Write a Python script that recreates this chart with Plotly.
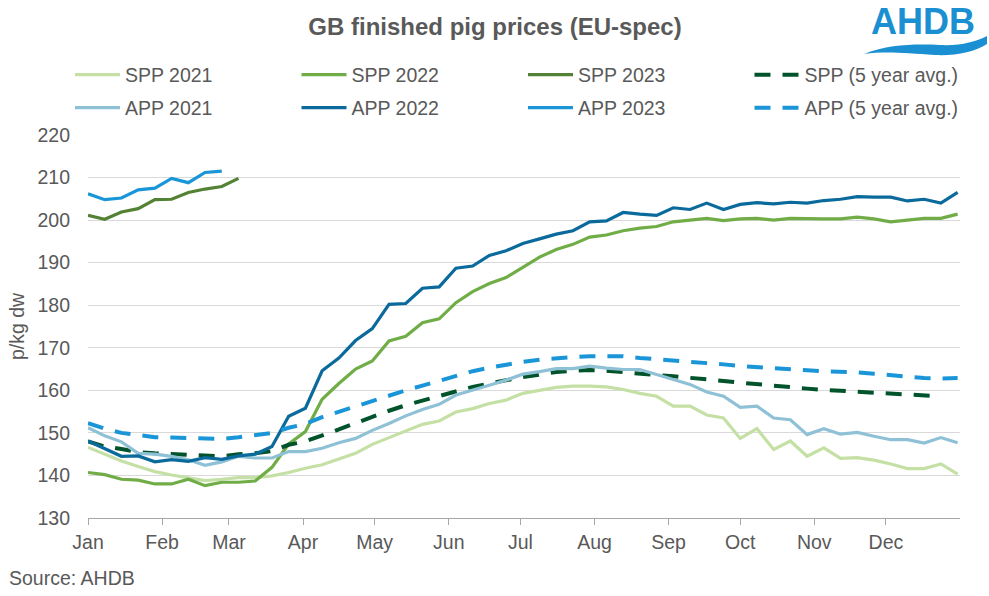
import plotly.graph_objects as go

# ---------------- data ----------------
week_index = list(range(53))
days_per_week = 7
month_labels = ["Jan", "Feb", "Mar", "Apr", "May", "Jun", "Jul", "Aug", "Sep", "Oct", "Nov", "Dec"]
month_start_day = [0, 31, 59, 90, 120, 151, 181, 212, 243, 273, 304, 334]
y_ticks = [130, 140, 150, 160, 170, 180, 190, 200, 210, 220]

spp_2021 = [146.6, 145.0, 143.4, 142.1, 140.9, 140.1, 139.5, 138.8, 139.1, 139.5, 139.5, 139.9,
            140.7, 141.7, 142.5, 143.8, 145.2, 147.3, 148.9, 150.6, 152.0, 152.8, 154.9, 155.7,
            156.9, 157.7, 159.3, 160.0, 160.7, 161.0, 161.0, 160.8, 160.2, 159.3, 158.6, 156.3,
            156.3, 154.2, 153.5, 148.7, 151.0, 146.1, 148.1, 144.5, 146.5, 144.0, 144.2, 143.6,
            142.7, 141.6, 141.6, 142.7, 140.3]
spp_2022 = [140.7, 140.2, 139.1, 138.9, 138.0, 138.0, 139.1, 137.6, 138.4, 138.4, 138.7, 141.9,
            147.4, 150.3, 157.9, 161.6, 165.0, 166.9, 171.6, 172.7, 175.9, 176.8, 180.6, 183.2,
            185.1, 186.5, 188.9, 191.3, 193.1, 194.3, 196.0, 196.5, 197.5, 198.1, 198.5, 199.6,
            200.0, 200.4, 199.9, 200.3, 200.4, 200.0, 200.4, 200.3, 200.3, 200.3, 200.7, 200.3,
            199.6, 200.0, 200.4, 200.4, 201.4]
spp_2023 = [201.1, 200.2, 201.9, 202.7, 204.8, 204.9, 206.5, 207.3, 207.9, 209.8]
spp_5yr = [148.0, 146.8, 146.2, 145.5, 145.2, 145.0, 144.7, 144.5, 144.5, 145.0, 145.2, 145.7,
           147.2, 148.0, 149.3, 150.8, 152.3, 153.8, 155.2, 156.5, 157.6, 158.6, 159.8, 160.8,
           161.6, 162.4, 163.1, 163.7, 164.3, 164.6, 164.8, 164.6, 164.2, 164.0, 163.6, 163.3,
           163.0, 162.6, 162.2, 161.8, 161.4, 161.0, 160.7, 160.4, 160.1, 159.9, 159.7, 159.5,
           159.2, 159.0, 158.8, 158.6]

app_2021 = [151.2, 149.3, 147.9, 145.2, 145.0, 144.5, 143.7, 142.4, 143.2, 144.5, 144.1, 144.1,
            145.6, 145.6, 146.4, 147.7, 148.7, 150.6, 152.2, 154.0, 155.5, 156.7, 158.9, 160.0,
            161.2, 162.4, 163.8, 164.4, 165.1, 165.1, 165.7, 165.2, 164.9, 164.9, 163.7, 162.5,
            161.4, 159.6, 158.6, 156.0, 156.3, 153.5, 153.1, 149.6, 151.0, 149.7, 150.1, 149.2,
            148.4, 148.4, 147.6, 148.9, 147.7]
app_2022 = [148.1, 146.2, 144.5, 144.6, 143.2, 143.7, 143.3, 144.2, 143.8, 144.6, 145.0, 146.8,
            153.9, 155.8, 164.6, 167.6, 171.7, 174.5, 180.2, 180.4, 184.0, 184.3, 188.7, 189.2,
            191.7, 192.8, 194.5, 195.6, 196.7, 197.5, 199.6, 199.8, 201.8, 201.4, 201.1, 202.9,
            202.5, 204.0, 202.5, 203.7, 204.1, 203.8, 204.2, 204.0, 204.6, 204.9, 205.5, 205.4,
            205.4, 204.5, 204.9, 204.0, 206.5]
app_2023 = [206.2, 204.8, 205.2, 207.1, 207.5, 209.8, 208.8, 211.2, 211.5]
app_5yr = [152.3, 151.0, 150.0, 149.4, 149.0, 148.9, 148.8, 148.6, 148.6, 149.0, 149.5, 150.0,
           151.2, 152.1, 153.7, 155.0, 156.3, 157.5, 158.8, 160.0, 161.1, 162.2, 163.5, 164.5,
           165.3, 166.1, 166.7, 167.2, 167.6, 167.8, 168.0, 168.0, 168.0, 167.6, 167.3, 167.1,
           166.9, 166.6, 166.1, 165.7, 165.4, 165.2, 165.0, 164.7, 164.5, 164.4, 164.2, 163.9,
           163.5, 163.2, 162.9, 162.8, 162.9]

series = [
    # name, values, colour, dash, legend
    ("SPP 2021", spp_2021, "#C5E0A5", "solid", "legend"),
    ("SPP 2022", spp_2022, "#70AD47", "solid", "legend"),
    ("SPP 2023", spp_2023, "#548235", "solid", "legend"),
    ("SPP (5 year avg.)", spp_5yr, "#00532A", "16px,12px", "legend"),
    ("APP 2021", app_2021, "#8FC1D6", "solid", "legend2"),
    ("APP 2022", app_2022, "#0B6A9C", "solid", "legend2"),
    ("APP 2023", app_2023, "#1A96D8", "solid", "legend2"),
    ("APP (5 year avg.)", app_5yr, "#1A96D8", "16px,12px", "legend2"),
]

# ---------------- layout geometry (screen pixels) ----------------
W, H = 989, 596
SCR_L, SCR_R, SCR_T, SCR_B = 88, 960, 135, 518
L, T = SCR_L, SCR_T
R, B = W - SCR_R, H - SCR_B
PW, PH = W - L - R, H - T - B
FONT = "Liberation Sans, Arial, sans-serif"
GREY = "#595959"
FS = 19.5
ITEM_W = 45
ENTRY_STEP = 225.5


def px_to_paper(x, y):
    """screen pixel -> paper coordinates"""
    return (x - L) / PW, (H - B - y) / PH


fig = go.Figure()
for name, vals, color, dash, leg in series:
    xs = [i * days_per_week for i in week_index[:len(vals)]]
    is_dash = dash != "solid"
    fig.add_trace(go.Scatter(
        x=xs, y=vals, mode="lines", name=name, legend=leg,
        line=dict(color=color, width=4 if is_dash else 3.2, dash=dash),
        hoverinfo="skip",
    ))

legend_common = dict(
    orientation="h", xref="paper", yref="paper",
    xanchor="left", yanchor="middle", itemwidth=ITEM_W,
    entrywidth=ENTRY_STEP - (ITEM_W + 14), entrywidthmode="pixels",
    font=dict(family=FONT, size=FS, color=GREY), bgcolor="rgba(0,0,0,0)",
    itemclick=False, itemdoubleclick=False, traceorder="normal",
)

fig.update_layout(
    width=W, height=H,
    margin=dict(l=L, r=R, t=T, b=B, autoexpand=False),
    paper_bgcolor="white", plot_bgcolor="white",
    font=dict(family=FONT, color=GREY),
    title=dict(text="<b>GB finished pig prices (EU-spec)</b>", x=495 / W, xref="container",
               xanchor="center", y=1 - 27 / H, yref="container", yanchor="middle",
               font=dict(family=FONT, size=24, color=GREY)),
    legend=dict(x=px_to_paper(70, 0)[0], y=px_to_paper(0, 75)[1], **legend_common),
    legend2=dict(x=px_to_paper(70, 0)[0], y=px_to_paper(0, 108)[1], **legend_common),
    xaxis=dict(
        range=[0, 365], tickmode="array", tickvals=month_start_day, ticktext=month_labels,
        showgrid=False, zeroline=False, showline=True, linecolor="#A6A6A6", linewidth=1.3,
        ticks="outside", ticklen=6, tickcolor="#A6A6A6", tickwidth=1.3,
        tickfont=dict(family=FONT, size=FS, color=GREY), fixedrange=True,
    ),
    yaxis=dict(
        range=[130, 220], tickmode="array", tickvals=y_ticks,
        showgrid=True, gridcolor="#D9D9D9", gridwidth=1.3, zeroline=False, showline=False,
        ticks="", tickfont=dict(family=FONT, size=FS, color=GREY), ticklabelstandoff=17,
        title=dict(text="p/kg dw", font=dict(family=FONT, size=FS, color=GREY), standoff=7),
        fixedrange=True,
    ),
    showlegend=True,
)

# Source note
fig.add_annotation(text="Source: AHDB", xref="paper", yref="paper",
                   x=px_to_paper(7, 0)[0], y=px_to_paper(0, 578)[1],
                   xanchor="left", yanchor="middle", showarrow=False,
                   font=dict(family=FONT, size=FS, color=GREY))

# AHDB logo (text + wave)
fig.add_annotation(text="<b>AHDB</b>", xref="paper", yref="paper",
                   x=px_to_paper(923, 0)[0], y=px_to_paper(0, 0)[1],
                   xanchor="center", yanchor="top", showarrow=False, borderpad=0,
                   font=dict(family=FONT, size=36, color="#1A8FD1"))


def pp(x, y):
    a, b = px_to_paper(x, y)
    return f"{a:.5f},{b:.5f}"


wave = (f"M {pp(864, 54)} C {pp(890, 44)} {pp(915, 44)} {pp(940, 45)} "
        f"C {pp(960, 46)} {pp(975, 42)} {pp(987, 36)} L {pp(987, 44)} "
        f"C {pp(975, 52)} {pp(955, 56)} {pp(935, 55)} C {pp(905, 53)} {pp(885, 51)} {pp(864, 54)} Z")
fig.add_shape(type="path", path=wave, xref="paper", yref="paper",
              fillcolor="#1A8FD1", line=dict(width=0), layer="above")

fig.write_html("out.html", config={"displayModeBar": False},
               post_script="document.body.style.margin='0';")
